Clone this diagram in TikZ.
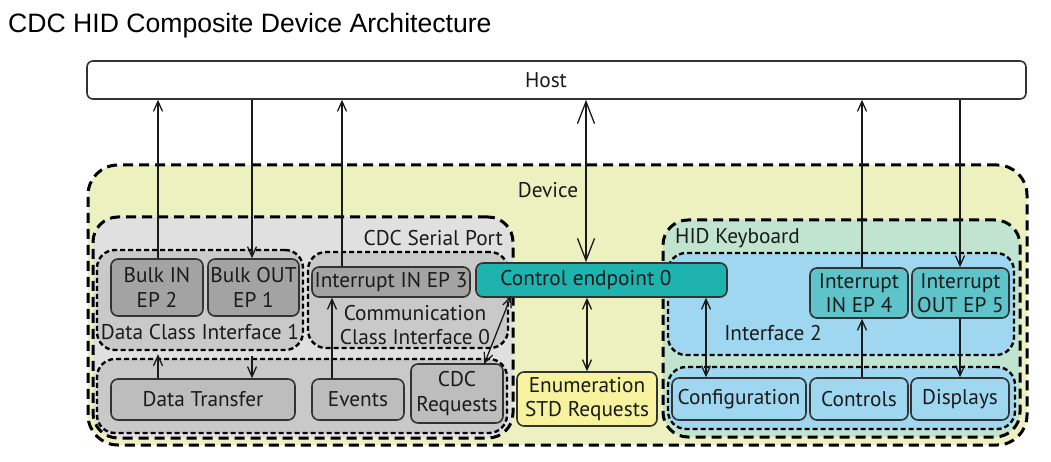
\documentclass[tikz,border=0pt]{standalone}
\usepackage{fontspec}
\setmainfont{PT Sans}
\newfontfamily\titlefont{Liberation Sans}
\usetikzlibrary{arrows.meta}
\definecolor{devfill}{HTML}{EDF1C0}
\definecolor{cdcfill}{HTML}{E0E0E0}
\definecolor{subgray}{HTML}{C9C9C9}
\definecolor{darkbox}{HTML}{A3A3A3}
\definecolor{midbox}{HTML}{BDBDBD}
\definecolor{ctrlfill}{HTML}{1EB3AF}
\definecolor{enumfill}{HTML}{F6F29E}
\definecolor{hidfill}{HTML}{C1E4D1}
\definecolor{ifblue}{HTML}{9FD7F1}
\definecolor{intfill}{HTML}{5EC4C9}
\definecolor{edge}{HTML}{333333}
\definecolor{txt}{HTML}{1A1A1A}
\begin{document}
\begin{tikzpicture}[x=1pt,y=-1pt,
  every node/.style={font=\fontsize{21.3}{24.5}\selectfont, text=txt},
  box/.style={draw=edge, line width=1.6pt, rounded corners=7pt, inner sep=0pt, align=center},
  grp/.style={draw=black, line width=3pt, dash pattern=on 10pt off 6pt, inner sep=0pt},
  sub/.style={draw=black, line width=2.4pt, dash pattern=on 5pt off 3pt, rounded corners=18pt, inner sep=0pt},
  conn/.style={line width=1.3pt, draw=black!90},
  sm/.tip={Straight Barb[length=10pt,width=9pt]},
  bg/.tip={Straight Barb[length=22pt,width=17pt]},
  lbl/.style={inner sep=0pt},
  ]
\useasboundingbox (0,0) rectangle (1051,462);
\node[anchor=base west, inner sep=0pt, font=\titlefont\fontsize{26.6}{30}\selectfont, text=black] (title) at (8,33) {CDC HID Composite Device Architecture};

% host
\node[box, fill=white, rounded corners=6pt, minimum width=939pt, minimum height=38pt] (host) at (556.5,80) {};
\node[lbl] (hostlbl) at (546,80) {Host};

% groups
\node[grp, fill=devfill, rounded corners=30pt, minimum width=939pt, minimum height=280pt] (device) at (557.5,305) {};
\node[grp, fill=cdcfill, rounded corners=25pt, minimum width=420pt, minimum height=221pt] (cdc) at (303,327.5) {};
\node[grp, fill=hidfill, rounded corners=25pt, minimum width=357pt, minimum height=217pt] (hid) at (841.5,328.5) {};
\node[sub, fill=subgray, minimum width=206pt, minimum height=100pt] (dci) at (200,300) {};
\node[sub, fill=subgray, minimum width=200pt, minimum height=96pt] (cci) at (408,300) {};
\node[sub, fill=subgray, minimum width=410pt, minimum height=74pt] (cdcfun) at (302,396) {};
\node[sub, fill=ifblue, minimum width=346pt, minimum height=102pt] (iface2) at (841,304) {};
\node[sub, fill=ifblue, minimum width=347pt, minimum height=62pt] (hidfun) at (841.5,398) {};

\node[lbl] (devlbl) at (548,190) {Device};
\node[lbl, anchor=east] (cdclbl) at (503,238) {CDC Serial Port};
\node[lbl, anchor=west] (hidlbl) at (675,238) {HID Keyboard};
\node[lbl] (dcilbl) at (200,332) {Data Class Interface 1};
\node[lbl, align=center] (ccilbl) at (415,325) {Communication\\Class Interface 0};
\node[lbl] (if2lbl) at (773,333) {Interface 2};

% boxes
\node[box, fill=darkbox, minimum width=92pt, minimum height=57pt] (bulkin) at (157,287.5) {Bulk IN\\EP 2};
\node[box, fill=darkbox, minimum width=91pt, minimum height=57pt] (bulkout) at (253.5,287.5) {Bulk OUT\\EP 1};
\node[box, fill=darkbox, minimum width=158pt, minimum height=30pt] (int3) at (391,282) {Interrupt IN EP 3};
\node[box, fill=ctrlfill, minimum width=251pt, minimum height=34pt] (ctrl) at (601.5,280) {};
\node[lbl] (ctrllbl) at (586,280) {Control endpoint 0};
\node[box, fill=enumfill, minimum width=140pt, minimum height=54pt] (enum) at (587,399) {Enumeration\\STD Requests};
\node[box, fill=intfill, minimum width=98pt, minimum height=50pt] (int4) at (859,293) {Interrupt\\IN EP 4};
\node[box, fill=intfill, minimum width=97pt, minimum height=50pt] (int5) at (960.5,293) {Interrupt\\OUT EP 5};
\node[box, fill=midbox, minimum width=184pt, minimum height=41pt] (datatr) at (203,399.5) {Data Transfer};
\node[box, fill=midbox, minimum width=92pt, minimum height=41pt] (events) at (358,399.5) {Events};
\node[box, fill=midbox, minimum width=92pt, minimum height=59pt] (cdcreq) at (457,393.5) {CDC\\Requests};
\node[box, fill=ifblue, minimum width=134pt, minimum height=42pt] (config) at (739,399) {Configuration};
\node[box, fill=ifblue, minimum width=98pt, minimum height=42pt] (controls) at (859,399) {Controls};
\node[box, fill=ifblue, minimum width=98pt, minimum height=42pt] (displays) at (960,399) {Displays};

% connector x positions
\coordinate (x3) at (342,0);
\coordinate (xc) at (586,0);
\coordinate (xe) at (332,0);
\coordinate (xcf) at (706,0);
\coordinate (x4) at (862,0);
\coordinate (x5) at (960,0);
\coordinate (xdt1) at (158,0);
\coordinate (xdt2) at (252,0);

% connectors
\draw[conn, -sm] (bulkin.north -| xdt1) -- (xdt1 |- host.south);
\draw[conn, -sm] (xdt2 |- host.south) -- (bulkout.north -| xdt2);
\draw[conn, -sm] (int3.north -| x3) -- (x3 |- host.south);
\draw[conn, bg-bg] (xc |- host.south) -- (ctrl.north -| xc);
\draw[conn, -sm] (int4.north -| x4) -- (x4 |- host.south);
\draw[conn, -sm] (x5 |- host.south) -- (int5.north -| x5);
\draw[conn, -sm] (datatr.north -| xdt1) -- ([yshift=-3pt]dci.south -| xdt1);
\draw[conn, -sm] ([yshift=-5pt]dci.south -| xdt2) -- (datatr.north -| xdt2);
\draw[conn, -sm] (events.north -| xe) -- (int3.south -| xe);
\draw[conn, sm-sm] ([xshift=36pt,yshift=2pt]ctrl.south west) -- ([xshift=74pt,yshift=-1pt]cdcreq.north west);
\draw[conn, sm-sm] (ctrl.south -| enum.north) -- (enum.north);
\draw[conn, sm-sm] (ctrl.south -| xcf) -- (config.north -| xcf);
\draw[conn, -sm] (controls.north -| x4) -- (int4.south -| x4);
\draw[conn, -sm] (int5.south -| x5) -- (displays.north -| x5);
\end{tikzpicture}
\end{document}
